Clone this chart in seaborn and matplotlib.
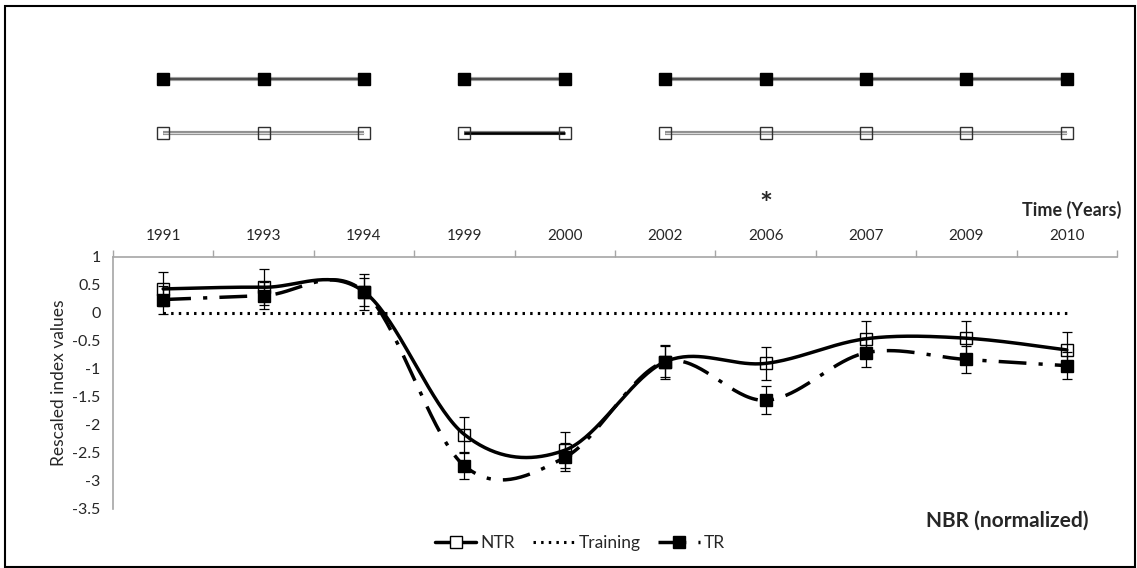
import numpy as np
import matplotlib
matplotlib.use("Agg")
import matplotlib.pyplot as plt
import seaborn as sns
from matplotlib.lines import Line2D
from matplotlib.patches import Rectangle

# ---------------- data ----------------
years = ["1991", "1993", "1994", "1999", "2000", "2002", "2006", "2007", "2009", "2010"]
ntr = [0.43, 0.46, 0.38, -2.17, -2.45, -0.87, -0.90, -0.46, -0.45, -0.66]
ntr_err = [0.30, 0.32, 0.32, 0.31, 0.32, 0.30, 0.30, 0.31, 0.31, 0.32]
tr = [0.24, 0.31, 0.38, -2.73, -2.58, -0.87, -1.56, -0.71, -0.83, -0.94]
tr_err = [0.25, 0.24, 0.25, 0.23, 0.25, 0.28, 0.25, 0.26, 0.24, 0.24]
training = [0, 0, 0, 0, 0, 0, 0, 0, 0, 0]
# acquisition groups shown in the top panel (indices into years)
groups = [[0, 1, 2], [3, 4], [5, 6, 7, 8, 9]]
star_year = "2006"
y_ticks = [1, 0.5, 0, -0.5, -1, -1.5, -2, -2.5, -3, -3.5]

sns.set_style("white")
plt.rcParams["font.family"] = ["Lato", "DejaVu Sans"]

W, H = 1137, 568
fig = plt.figure(figsize=(W / 100, H / 100), dpi=100)


def px(x0, y0, x1, y1):
    return [x0 / W, 1 - y1 / H, (x1 - x0) / W, (y1 - y0) / H]


def smooth(xs, ys, n=40):
    P = np.column_stack([xs, ys]).astype(float)
    out = []
    for i in range(len(P) - 1):
        p0 = P[i - 1] if i > 0 else P[i]
        p1, p2 = P[i], P[i + 1]
        p3 = P[i + 2] if i + 2 < len(P) else P[i + 1]
        c1 = p1 + (p2 - p0) / 6
        c2 = p2 - (p3 - p1) / 6
        t = np.linspace(0, 1, n)[:, None]
        seg = (1 - t) ** 3 * p1 + 3 * (1 - t) ** 2 * t * c1 + 3 * (1 - t) * t ** 2 * c2 + t ** 3 * p2
        out.append(seg if i == 0 else seg[1:])
    return np.vstack(out)


x = np.arange(len(years))
TR_DASH = [8, 3.5, 1.2, 3.5]
DOT = [0.8, 1.7]

# ---------------- main axes ----------------
ax = fig.add_axes(px(113, 257, 1117, 509))
ax.set_xlim(-0.5, len(years) - 0.5)
ax.set_ylim(-3.5, 1)

s_ntr = smooth(x, ntr)
s_tr = smooth(x, tr)
sns.lineplot(x=s_ntr[:, 0], y=s_ntr[:, 1], ax=ax, sort=False, estimator=None,
             color="black", lw=2.5, zorder=3)
sns.lineplot(x=s_tr[:, 0], y=s_tr[:, 1], ax=ax, sort=False, estimator=None,
             color="black", lw=2.5, zorder=3)
ax.lines[-1].set_dashes(TR_DASH)
sns.lineplot(x=x, y=training, ax=ax, color="black", lw=2.2, zorder=2)
ax.lines[-1].set_dashes(DOT)

ax.errorbar(x, ntr, yerr=ntr_err, fmt="none", ecolor="black", elinewidth=0.9,
            capsize=3.5, capthick=0.9, zorder=4)
ax.errorbar(x, tr, yerr=tr_err, fmt="none", ecolor="black", elinewidth=0.9,
            capsize=3.5, capthick=0.9, zorder=4)
ax.plot(x, ntr, ls="none", marker="s", ms=8, mfc="none", mec="black", mew=1.0, zorder=5)
ax.plot(x, tr, ls="none", marker="s", ms=9, mfc="black", mec="black", zorder=6)

ax.set_yticks(y_ticks)
ax.set_yticklabels([("%g" % v) for v in y_ticks], fontsize=11.5)
ax.set_xticks(np.arange(len(years) + 1) - 0.5)
ax.set_xticklabels([])
ax.xaxis.set_ticks_position("top")
ax.tick_params(axis="x", direction="out", length=5, color="#a6a6a6", width=1)
ax.tick_params(axis="y", direction="out", length=5, color="#a6a6a6", width=1, pad=4)
for side in ["right", "bottom"]:
    ax.spines[side].set_visible(False)
for side in ["left", "top"]:
    ax.spines[side].set_color("#a6a6a6")
    ax.spines[side].set_linewidth(1.2)
ax.set_ylabel("Rescaled index values", fontsize=12.5, labelpad=4)
for i, yr in enumerate(years):
    ax.text(i, 1.38, yr, ha="center", va="center", fontsize=11, clip_on=False)

fig.text(1088 / W, 1 - 521 / H, "NBR (normalized)", ha="right", va="center",
         fontsize=15, fontweight="bold")

# ---------------- top panel ----------------
axt = fig.add_axes(px(113, 40, 1117, 220))
axt.set_xlim(-0.5, len(years) - 0.5)
axt.set_ylim(220, 40)
axt.axis("off")
r1, r2 = 79, 133
for gi, g in enumerate(groups):
    gx = np.array(g, dtype=float)
    axt.plot(gx, [r1] * len(g), color="#a0a0a0", lw=3.0, solid_capstyle="butt")
    axt.plot(gx, [r1] * len(g), color="#404040", lw=1.2, solid_capstyle="butt")
    axt.plot(gx, [r1] * len(g), ls="none", marker="s", ms=9, mfc="black", mec="black")
    if gi == 1:
        axt.plot(gx, [r2] * len(g), color="#808080", lw=3.0, solid_capstyle="butt")
        axt.plot(gx, [r2] * len(g), color="black", lw=1.8, solid_capstyle="butt")
    else:
        axt.plot(gx, [r2] * len(g), color="#909090", lw=3.0, solid_capstyle="butt")
        axt.plot(gx, [r2] * len(g), color="#d8d8d8", lw=0.8, solid_capstyle="butt")
    axt.plot(gx, [r2] * len(g), ls="none", marker="s", ms=8, mfc="none", mec="#303030", mew=1.0)

si = years.index(star_year)
axt.text(si, 205, "*", ha="center", va="center", fontsize=22, fontweight="bold")
axt.text(len(years) - 0.5 + 0.04, 210, "Time (Years)", ha="right", va="center",
         fontsize=13, fontweight="bold")

# ---------------- legend ----------------
handles = [
    Line2D([], [], color="black", lw=2.5, marker="s", ms=8, mfc="white", mec="black"),
    Line2D([], [], color="black", lw=2.2, dashes=DOT),
    Line2D([], [], color="black", lw=2.5, marker="s", ms=9, mfc="black", dashes=TR_DASH),
]
fig.legend(handles, ["NTR", "Training", "TR"], loc="center", ncol=3,
           bbox_to_anchor=(580 / W, 1 - 543 / H), frameon=False, fontsize=12.5,
           handlelength=2.4, handletextpad=0.25, columnspacing=1.0)

# ---------------- chart border ----------------
fig.patches.append(Rectangle((5 / W, 1 / H), (1135 - 5) / W, (562 - 1) / H,
                             transform=fig.transFigure, fill=False, ec="black", lw=1.5))

fig.savefig("out.png", dpi=100)
